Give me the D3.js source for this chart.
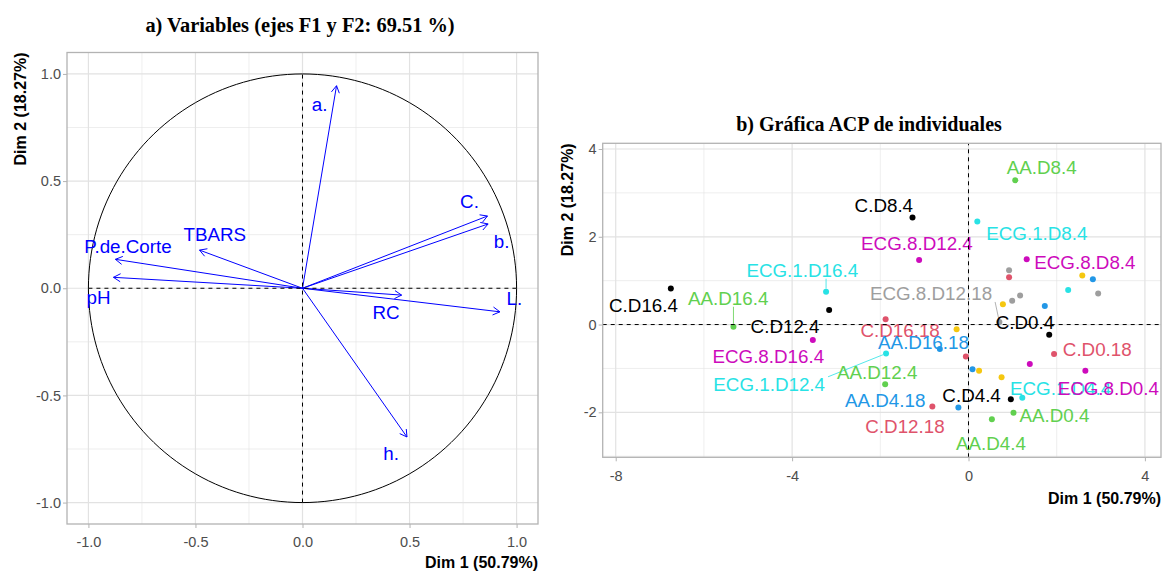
<!DOCTYPE html>
<html>
<head>
<meta charset="utf-8">
<script src="https://cdn.jsdelivr.net/npm/d3@7"></script>
<style>
  body { margin: 0; background: #fff; }
  text { font-family: "Liberation Sans", Arial, sans-serif; }
</style>
</head>
<body>
<svg id="chart" width="1166" height="573"></svg>
<script>
// ---- panel a: variables ----
const varNames = ["a.", "C.", "b.", "L.", "RC", "h.", "TBARS", "P.de.Corte", "pH"];
const varDim1 = [0.159, 0.864, 0.867, 0.922, 0.463, 0.488, -0.481, -0.874, -0.883];
const varDim2 = [0.945, 0.337, 0.300, -0.110, -0.032, -0.694, 0.178, 0.135, 0.051];
// where the repelled labels ended up (data units)
const varLabDim1 = [0.08, 0.78, 0.93, 0.99, 0.39, 0.414, -0.41, -0.815, -0.953];
const varLabDim2 = [0.856, 0.404, 0.217, -0.047, -0.113, -0.771, 0.249, 0.194, -0.042];
const varTicks = [-1, -0.5, 0, 0.5, 1];
const varMinor = [-0.75, -0.25, 0.25, 0.75];

// ---- panel b: individuals ----
const groups = ["C.4", "AA.4", "ECG.1.4", "ECG.8.4", "C.18", "AA.18", "ECG.1.18", "ECG.8.18"];
const groupColors = ["#000000", "#61D04F", "#28E2E5", "#CD0BBC", "#DF536B", "#2297E6", "#F5C710", "#9E9E9E"];

const indNames = [
  "C.D0.4", "C.D4.4", "C.D8.4", "C.D12.4", "C.D16.4",
  "AA.D0.4", "AA.D4.4", "AA.D8.4", "AA.D12.4", "AA.D16.4",
  "ECG.1.D0.4", "ECG.1.D4.4", "ECG.1.D8.4", "ECG.1.D12.4", "ECG.1.D16.4",
  "ECG.8.D0.4", "ECG.8.D4.4", "ECG.8.D8.4", "ECG.8.D12.4", "ECG.8.D16.4",
  "C.D0.18", "C.D4.18", "C.D8.18", "C.D12.18", "C.D16.18",
  "AA.D0.18", "AA.D4.18", "AA.D8.18", "AA.D12.18", "AA.D16.18",
  "ECG.1.D0.18", "ECG.1.D4.18", "ECG.1.D8.18", "ECG.1.D12.18", "ECG.1.D16.18",
  "ECG.8.D0.18", "ECG.8.D4.18", "ECG.8.D8.18", "ECG.8.D12.18", "ECG.8.D16.18"
];
const indGroup = [
  0, 0, 0, 0, 0, 1, 1, 1, 1, 1, 2, 2, 2, 2, 2, 3, 3, 3, 3, 3,
  4, 4, 4, 4, 4, 5, 5, 5, 5, 5, 6, 6, 6, 6, 6, 7, 7, 7, 7, 7
];
const indDim1 = [
  1.83, 0.96, -1.27, -3.16, -6.75,
  1.02, 0.53, 1.06, -1.89, -5.33,
  2.26, 1.22, 0.20, -1.87, -3.23,
  2.65, 1.39, 1.32, -1.12, -3.53,
  1.94, -0.06, 0.92, -0.82, -1.88,
  2.82, -0.23, 1.73, 0.09, -0.65,
  2.58, 0.78, 0.75, 0.24, -0.27,
  2.94, 0.99, 1.17, 0.70, 0.92
];
const indDim2 = [
  -0.23, -1.70, 2.44, 0.33, 0.82,
  -2.01, -2.16, 3.29, -1.36, -0.05,
  0.79, -1.67, 2.35, -0.66, 0.75,
  -1.05, -0.90, 1.49, 1.47, -0.35,
  -0.67, -0.73, 1.08, -1.87, 0.12,
  1.03, -1.89, 0.42, -1.02, -0.56,
  1.12, 0.46, -1.20, -1.05, -0.11,
  0.71, 0.54, 0.66, 0.06, 1.24
];
// repelled label centres (data units), null = label dropped
const indLabDim1 = [
  1.28, 0.07, -1.92, -4.16, -7.37,
  1.95, 0.51, 1.66, -2.07, -5.45,
  null, 2.09, 1.55, -4.52, -3.77,
  3.17, null, 2.64, -1.17, -4.54,
  2.92, null, null, -1.44, -1.55,
  null, -1.89, null, null, -1.02,
  null, null, null, null, null,
  null, null, null, -0.85, null
];
const indLabDim2 = [
  0.04, -1.61, 2.72, -0.05, 0.44,
  -2.06, -2.71, 3.59, -1.08, 0.60,
  null, -1.45, 2.08, -1.36, 1.24,
  -1.45, null, 1.41, 1.85, -0.72,
  -0.56, null, null, -2.33, -0.13,
  null, -1.72, null, null, -0.41,
  null, null, null, null, null,
  null, null, null, 0.71, null
];
const withSegment = ["AA.D16.4", "ECG.1.D16.4", "ECG.1.D12.4", "ECG.8.D12.18"];
const indXTicks = [-8, -4, 0, 4];
const indXMinor = [-6, -2, 2];
const indYTicks = [-2, 0, 2, 4];
const indYMinor = [-3, -1, 1, 3];

const svg = d3.select("#chart");
const gridCol = "#E2E2E2";
const borderCol = "#B3B3B3";
const labelSize = "18.8px";

// common panel frame: grid, ticks, tick labels
function drawFrame(x, y, xt, xm, yt, ym, fmt) {
  const [x0, x1] = x.range();
  const [y0, y1] = y.range(); // y0 bottom, y1 top
  const g = svg.append("g");
  g.selectAll(".xm").data(xm).join("line")
    .attr("x1", x).attr("x2", x).attr("y1", y0).attr("y2", y1)
    .attr("stroke", gridCol).attr("stroke-width", 0.6);
  g.selectAll(".ym").data(ym).join("line")
    .attr("x1", x0).attr("x2", x1).attr("y1", y).attr("y2", y)
    .attr("stroke", gridCol).attr("stroke-width", 0.6);
  g.selectAll(".xt").data(xt).join("line")
    .attr("x1", x).attr("x2", x).attr("y1", y0).attr("y2", y1)
    .attr("stroke", gridCol).attr("stroke-width", 1.2);
  g.selectAll(".yt").data(yt).join("line")
    .attr("x1", x0).attr("x2", x1).attr("y1", y).attr("y2", y)
    .attr("stroke", gridCol).attr("stroke-width", 1.2);

  // axes via d3 (ticks outside, grey)
  const ax = g.append("g").attr("transform", `translate(0,${y0})`)
    .call(d3.axisBottom(x).tickValues(xt).tickSize(4).tickPadding(9).tickFormat(fmt));
  const ay = g.append("g").attr("transform", `translate(${x0},0)`)
    .call(d3.axisLeft(y).tickValues(yt).tickSize(4).tickPadding(2).tickFormat(fmt));
  [ax, ay].forEach(a => {
    a.select(".domain").remove();
    a.selectAll("line").attr("stroke", borderCol);
    a.selectAll("text").attr("fill", "#4D4D4D").style("font-size", "14.5px")
      .style("font-family", '"Liberation Sans", Arial, sans-serif');
  });
  return g;
}

function drawBorder(x, y) {
  const [x0, x1] = x.range();
  const [y0, y1] = y.range();
  svg.append("rect").attr("x", x0).attr("y", y1)
    .attr("width", x1 - x0).attr("height", y0 - y1)
    .attr("fill", "none").attr("stroke", borderCol).attr("stroke-width", 1.3);
}

const minusFmt = d => d3.format(".1f")(d).replace("−", "-");

// ================= panel a =================
const xa = d3.scaleLinear().domain([-1.1, 1.1]).range([67, 538]);
const ya = d3.scaleLinear().domain([-1.1, 1.1]).range([524, 52.5]);
drawFrame(xa, ya, varTicks, varMinor, varTicks, varMinor, minusFmt);

// correlation circle
const circ = d3.range(0, 2 * Math.PI + 0.01, Math.PI / 90).map(t => [Math.cos(t), Math.sin(t)]);
svg.append("path")
  .attr("d", d3.line().x(d => xa(d[0])).y(d => ya(d[1]))(circ))
  .attr("fill", "none").attr("stroke", "#000").attr("stroke-width", 1);

// arrows
const arrowG = svg.append("g").attr("stroke", "#0000FF").attr("stroke-width", 1).attr("fill", "none");
varNames.forEach((n, i) => {
  const sx = xa(0), sy = ya(0), ex = xa(varDim1[i]), ey = ya(varDim2[i]);
  arrowG.append("line").attr("x1", sx).attr("y1", sy).attr("x2", ex).attr("y2", ey);
  const ang = Math.atan2(ey - sy, ex - sx);
  const L = 8, spread = Math.PI / 6;
  const pts = [
    [ex - L * Math.cos(ang - spread), ey - L * Math.sin(ang - spread)],
    [ex, ey],
    [ex - L * Math.cos(ang + spread), ey - L * Math.sin(ang + spread)]
  ];
  arrowG.append("path").attr("d", d3.line()(pts));
});

svg.append("g").selectAll("text").data(varNames).join("text")
  .attr("x", (d, i) => xa(varLabDim1[i]))
  .attr("y", (d, i) => ya(varLabDim2[i]))
  .attr("dy", "0.35em")
  .attr("text-anchor", "middle")
  .attr("fill", "#0000FF")
  .style("font-size", labelSize)
  .text(d => d);

// dashed axes inside the circle
svg.append("line").attr("x1", xa(-1)).attr("x2", xa(1)).attr("y1", ya(0)).attr("y2", ya(0))
  .attr("stroke", "#000").attr("stroke-dasharray", "4,4");
svg.append("line").attr("x1", xa(0)).attr("x2", xa(0)).attr("y1", ya(-1)).attr("y2", ya(1))
  .attr("stroke", "#000").attr("stroke-dasharray", "4,4");
drawBorder(xa, ya);

svg.append("text").attr("x", 300).attr("y", 32).attr("text-anchor", "middle")
  .style("font-family", '"Liberation Serif", "Times New Roman", serif')
  .style("font-weight", "bold").style("font-size", "20.4px")
  .text("a) Variables (ejes F1 y F2: 69.51 %)");
svg.append("text").attr("transform", "translate(25.5,52.5) rotate(-90)")
  .attr("text-anchor", "end").style("font-weight", "bold").style("font-size", "16px")
  .text("Dim 2 (18.27%)");
svg.append("text").attr("x", 538).attr("y", 568).attr("text-anchor", "end")
  .style("font-weight", "bold").style("font-size", "16px")
  .text("Dim 1 (50.79%)");

// ================= panel b =================
const xb = d3.scaleLinear().domain([-8.295, 4.365]).range([602.7, 1161]);
const yb = d3.scaleLinear().domain([-3.025, 4.13]).range([457.3, 143.3]);
drawFrame(xb, yb, indXTicks, indXMinor, indYTicks, indYMinor, d => String(d));

const inds = indNames.map((n, i) => ({
  name: n, x: indDim1[i], y: indDim2[i], col: groupColors[indGroup[i]],
  lx: indLabDim1[i], ly: indLabDim2[i]
}));

svg.append("g").selectAll("circle").data(inds).join("circle")
  .attr("cx", d => xb(d.x)).attr("cy", d => yb(d.y)).attr("r", 3)
  .attr("fill", d => d.col);

const labelled = inds.filter(d => d.lx !== null);
const labG = svg.append("g");
const segG = labG.append("g");
labG.selectAll("text").data(labelled).join("text")
  .attr("x", d => xb(d.lx)).attr("y", d => yb(d.ly))
  .attr("dy", "0.35em").attr("text-anchor", "middle")
  .attr("fill", d => d.col).style("font-size", labelSize)
  .text(d => d.name)
  .each(function (d) {
    if (!withSegment.includes(d.name)) return;
    const b = this.getBBox();
    const pad = 3;
    const px = xb(d.x), py = yb(d.y);
    const nx = Math.max(b.x - pad, Math.min(px, b.x + b.width + pad));
    const ny = Math.max(b.y + 3, Math.min(py, b.y + b.height - 2));
    const dist = Math.hypot(px - nx, py - ny);
    const ex = px - (px - nx) * 3 / dist, ey = py - (py - ny) * 3 / dist;
    segG.append("line").attr("x1", nx).attr("y1", ny).attr("x2", ex).attr("y2", ey)
      .attr("stroke", d.col).attr("stroke-width", 0.8);
  });

svg.append("line").attr("x1", xb.range()[0]).attr("x2", xb.range()[1]).attr("y1", yb(0)).attr("y2", yb(0))
  .attr("stroke", "#000").attr("stroke-dasharray", "4,4");
svg.append("line").attr("x1", xb(0)).attr("x2", xb(0)).attr("y1", yb.range()[0]).attr("y2", yb.range()[1])
  .attr("stroke", "#000").attr("stroke-dasharray", "4,4");
drawBorder(xb, yb);

svg.append("text").attr("x", 869).attr("y", 131).attr("text-anchor", "middle")
  .style("font-family", '"Liberation Serif", "Times New Roman", serif')
  .style("font-weight", "bold").style("font-size", "20px")
  .text("b) Gráfica ACP de individuales");
svg.append("text").attr("transform", "translate(572.5,143.3) rotate(-90)")
  .attr("text-anchor", "end").style("font-weight", "bold").style("font-size", "16px")
  .text("Dim 2 (18.27%)");
svg.append("text").attr("x", 1161).attr("y", 503.5).attr("text-anchor", "end")
  .style("font-weight", "bold").style("font-size", "16px")
  .text("Dim 1 (50.79%)");
</script>
</body>
</html>
